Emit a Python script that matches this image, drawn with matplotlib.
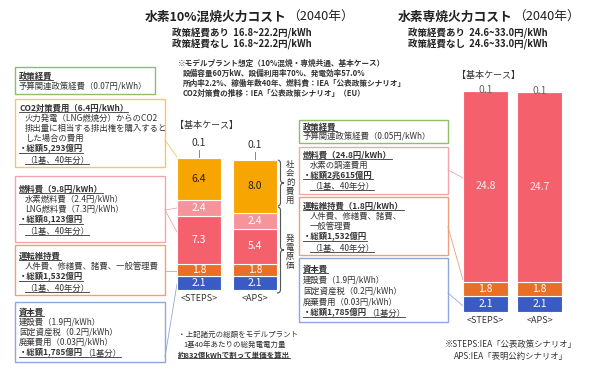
import matplotlib
matplotlib.use("Agg")
import matplotlib.pyplot as plt
from matplotlib.patches import Rectangle, PathPatch
from matplotlib.path import Path

plt.rcParams["font.family"] = ["Noto Sans CJK JP", "DejaVu Sans"]

scenarios = ["<STEPS>", "<APS>"]

# 10% co-firing cost (yen/kWh), bottom to top
mix_capital = [2.1, 2.1]
mix_om = [1.8, 1.8]
mix_lng_fuel = [7.3, 5.4]
mix_h2_fuel = [2.4, 2.4]
mix_co2 = [6.4, 8.0]
mix_policy = [0.1, 0.1]

# 100% hydrogen cost (yen/kWh)
full_capital = [2.1, 2.1]
full_om = [1.8, 1.8]
full_fuel = [24.8, 24.7]
full_policy = [0.1, 0.1]

BLUE = "#3A5BC4"
ORANGE = "#E86F28"
RED = "#F4606C"
PINK = "#F7949B"
GOLD = "#F7A500"
GREEN = "#8DBF6A"
TXT = "#333333"

W, H = 590, 369
fig = plt.figure(figsize=(5.9, 3.69), dpi=100)
bg = fig.add_axes([0, 0, 1, 1])
bg.set_xlim(0, W)
bg.set_ylim(H, 0)
bg.axis("off")

underlined = []


def txt(x, y, s, size=6, bold=False, ul=False, color=TXT, ha="left"):
    t = bg.text(x, y, s, fontsize=size, fontweight="bold" if bold else "normal",
                color=color, va="center", ha=ha)
    if ul:
        underlined.append(t)
    return t


def after(t, s, size=6, bold=False, ul=False, color=TXT):
    t2 = bg.annotate(s, xy=(1, 0.5), xycoords=t, va="center", ha="left",
                     fontsize=size, fontweight="bold" if bold else "normal", color=color)
    if ul:
        underlined.append(t2)
    return t2


def box(x0, y0, x1, y1, color):
    bg.add_patch(Rectangle((x0, y0), x1 - x0, y1 - y0, fill=False, ec=color, lw=1.0))


def link(p, q, color):
    bg.plot([p[0], q[0]], [p[1], q[1]], color=color, lw=0.6)


def brace(x, y0, y1, w=3.5):
    ym = (y0 + y1) / 2
    verts = [(x, y0), (x + w, y0), (x + w, y0 + w), (x + w, ym - w), (x + w, ym), (x + 2 * w, ym),
             (x + 2 * w, ym), (x + w, ym), (x + w, ym + w), (x + w, y1 - w), (x + w, y1), (x, y1)]
    codes = [Path.MOVETO, Path.CURVE3, Path.CURVE3, Path.LINETO, Path.CURVE3, Path.CURVE3,
             Path.MOVETO, Path.CURVE3, Path.CURVE3, Path.LINETO, Path.CURVE3, Path.CURVE3]
    bg.add_patch(PathPatch(Path(verts, codes), fill=False, ec="#555555", lw=0.8))


def px_axes(x0, x1, y_bottom, y_top):
    ax = fig.add_axes([x0 / W, 1 - y_bottom / H, (x1 - x0) / W, (y_bottom - y_top) / H])
    ax.patch.set_alpha(0)
    for s in ax.spines.values():
        s.set_visible(False)
    ax.set_yticks([])
    ax.set_xlim(-0.5, 1.5)
    ax.set_xticks(range(len(scenarios)))
    ax.set_xticklabels(scenarios, fontsize=6.5, color=TXT)
    ax.tick_params(axis="x", length=0, pad=3)
    return ax


def stack(ax, segs, width):
    x = list(range(len(scenarios)))
    bottom = [0.0] * len(scenarios)
    for vals, color, tcolor in segs:
        bars = ax.bar(x, vals, width, bottom=bottom, color=color, edgecolor="white", linewidth=0.8)
        if tcolor:
            ax.bar_label(bars, labels=[f"{v:.1f}" for v in vals], label_type="center",
                         color=tcolor, fontsize=7.5)
        bottom = [b + v for b, v in zip(bottom, vals)]
    return bottom


# ---- left chart (10% co-firing)
ax1 = px_axes(171, 283, 290, 290 - 6.6 * 22)
ax1.set_ylim(0, 22)
tops = stack(ax1, [(mix_capital, BLUE, "white"), (mix_om, ORANGE, "white"),
                   (mix_lng_fuel, RED, "white"), (mix_h2_fuel, PINK, "white"),
                   (mix_co2, GOLD, "#222222"), (mix_policy, GREEN, None)], 0.786)
for i, (tp, v) in enumerate(zip(tops, mix_policy)):
    ax1.plot([i, i], [tp, tp + 1.1], color="#888888", lw=0.7)
    ax1.text(i, tp + 2.1, f"{v:.1f}", ha="center", va="center", fontsize=7.5, color=TXT)

# ---- right chart (100% hydrogen)
ax2 = px_axes(458.5, 566.5, 312, 312 - 7.7 * 30)
ax2.set_ylim(0, 30)
tops2 = stack(ax2, [(full_capital, BLUE, "white"), (full_om, ORANGE, "white"),
                    (full_fuel, RED, "#FDECEE"), (full_policy, RED, None)], 0.83)
for i, (tp, v) in enumerate(zip(tops2, full_policy)):
    ax2.text(i, tp, f"{v:.1f}", ha="center", va="center", fontsize=7.5, color="#666666")

# ---- titles
t = txt(145, 17, "水素10%混焼火力コスト", size=9.2, bold=True, color="#222222")
after(t, "（2040年）", size=9.2, color="#222222")
t = txt(398, 17, "水素専焼火力コスト", size=9.2, bold=True, color="#222222")
after(t, "（2040年）", size=9.2, color="#222222")
txt(172, 33, "政策経費あり  16.8~22.2円/kWh", size=6.8, bold=True, color="#222222")
txt(172, 44, "政策経費なし  16.8~22.2円/kWh", size=6.8, bold=True, color="#222222")
txt(408, 33, "政策経費あり  24.6~33.0円/kWh", size=6.8, bold=True, color="#222222")
txt(408, 44, "政策経費なし  24.6~33.0円/kWh", size=6.8, bold=True, color="#222222")

txt(178, 63, "※モデルプラント想定（10%混焼・専焼共通、基本ケース）", size=5.5, bold=True)
txt(183, 73, "設備容量60万kW、設備利用率70%、発電効率57.0%", size=5.5, bold=True)
txt(183, 83, "所内率2.2%、稼働年数40年、燃料費：IEA「公表政策シナリオ」", size=5.5, bold=True)
txt(183, 93, "CO2対策費の推移：IEA「公表政策シナリオ」（EU）", size=5.5, bold=True)

txt(175, 125, "【基本ケース】", size=6.5)
txt(457, 75, "【基本ケース】", size=6.5)

# ---- cost breakdown boxes, left
box(15, 67, 155, 94, GREEN)
txt(19, 76, "政策経費", bold=True, ul=True)
txt(19, 87, "予算関連政策経費（0.07円/kWh）")

box(15, 99, 165, 167, "#F6C46C")
txt(19, 108, "CO2対策費用（6.4円/kWh）", bold=True, ul=True)
txt(25, 118, "火力発電（LNG燃焼分）からのCO2")
txt(25, 128, "排出量に相当する排出権を購入すると")
txt(25, 138, "した場合の費用")
txt(19, 149, "・総額5,293億円", bold=True, ul=True)
txt(25, 160, "（1基、40年分）", ul=True)

box(15, 176, 165, 242, "#F2A5AB")
txt(19, 189, "燃料費（9.8円/kWh）", bold=True, ul=True)
txt(25, 199, "水素燃料費（2.4円/kWh）")
txt(25, 209, "LNG燃料費（7.3円/kWh）")
txt(19, 220, "・総額8,123億円", bold=True, ul=True)
txt(25, 231, "（1基、40年分）", ul=True)

box(15, 245, 165, 295, "#EDA07F")
txt(19, 256, "運転維持費", bold=True, ul=True)
txt(25, 266, "人件費、修繕費、諸費、一般管理費")
txt(19, 277, "・総額1,532億円", bold=True, ul=True)
txt(25, 288, "（1基、40年分）", ul=True)

box(15, 302, 165, 362, "#8EA8DA")
txt(19, 312, "資本費", bold=True, ul=True)
txt(19, 322, "建設費（1.9円/kWh）")
txt(19, 332, "固定資産税（0.2円/kWh）")
txt(19, 342, "廃棄費用（0.03円/kWh）")
t = txt(19, 353, "・総額1,785億円", bold=True, ul=True)
after(t, "（1基分）", ul=True)

link((165, 140), (177, 157), "#F6C46C")
link((165, 210), (177, 208), "#F2A5AB")
link((165, 210), (177, 232), "#F2A5AB")
link((165, 271), (177, 271), "#EDA07F")
link((165, 357), (177, 284), "#8EA8DA")

# ---- cost breakdown boxes, middle
box(299, 120, 448, 143, GREEN)
txt(303, 127, "政策経費", bold=True, ul=True)
txt(303, 137, "予算関連政策経費（0.05円/kWh）")

box(299, 147, 448, 194, "#F2A5AB")
txt(303, 155, "燃料費（24.8円/kWh）", bold=True, ul=True)
txt(310, 165, "水素の調達費用")
txt(303, 175, "・総額2兆615億円", bold=True, ul=True)
txt(310, 186, "（1基、40年分）", ul=True)

box(299, 197, 448, 255, "#EDA07F")
txt(303, 206, "運転維持費（1.8円/kWh）", bold=True, ul=True)
txt(310, 216, "人件費、修繕費、諸費、")
txt(310, 226, "一般管理費")
txt(303, 237, "・総額1,532億円", bold=True, ul=True)
txt(310, 248, "（1基、40年分）", ul=True)

box(299, 258, 448, 322, "#8EA8DA")
txt(303, 269, "資本費", bold=True, ul=True)
txt(303, 280, "建設費（1.9円/kWh）")
txt(303, 291, "固定資産税（0.2円/kWh）")
txt(303, 302, "廃棄費用（0.03円/kWh）")
t = txt(303, 313, "・総額1,785億円", bold=True, ul=True)
after(t, "（1基分）", ul=True)

link((448, 170), (463, 178), "#F2A5AB")
link((448, 227), (463, 280), "#EDA07F")
link((448, 293), (463, 306), "#8EA8DA")

# ---- braces and vertical labels
brace(277, 160, 206)
brace(277, 207, 293)
txt(290, 182, "\n".join("社会的費用"), size=6, ha="center").set_linespacing(1.0)
txt(290, 252, "\n".join("発電原価"), size=6, ha="center").set_linespacing(1.0)

# ---- footnotes
txt(178, 335, "・上記諸元の総額をモデルプラント", size=5.4)
txt(183, 345, "1基40年あたりの総発電電力量", size=5.4)
txt(178, 355, "約832億kWhで割って単価を算出", size=5.4, bold=True, ul=True)
txt(511, 345, "※STEPS:IEA「公表政策シナリオ」", size=6, ha="center")
txt(511, 356, "APS:IEA「表明公約シナリオ」", size=6, ha="center")

# underlines need rendered text extents
fig.canvas.draw()
r = fig.canvas.get_renderer()
inv = bg.transData.inverted()
for t in underlined:
    bb = t.get_window_extent(r)
    (x0, y0), (x1, _) = inv.transform([(bb.x0, bb.y0), (bb.x1, bb.y1)])
    bg.plot([x0, x1], [y0 - 0.5, y0 - 0.5], color=t.get_color(), lw=0.6)

fig.savefig("out.png", dpi=100)
